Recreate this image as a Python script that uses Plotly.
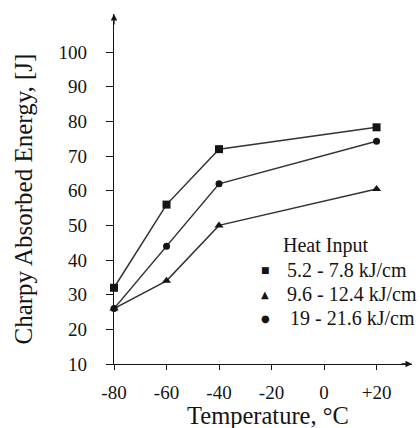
import plotly.graph_objects as go

temperature = [-80, -60, -40, 20]
series_names = ["5.2 - 7.8 kJ/cm", "9.6 - 12.4 kJ/cm", "19 - 21.6 kJ/cm"]
energy_low = [32, 56, 72, 78.3]
energy_mid = [26, 34, 50, 60.5]
energy_high = [26, 44, 62, 74.3]
symbols = ["square", "triangle-up", "circle"]
legend_glyphs = ["\u25A0", "\u25B2", "\u25CF"]
x_ticks = [-80, -60, -40, -20, 0, 20]
x_tick_labels = ["-80", "-60", "-40", "-20", "0", "+20"]
y_ticks = [10, 20, 30, 40, 50, 60, 70, 80, 90, 100]

ink = "#141414"
font = "Liberation Serif, Times New Roman, serif"
fig = go.Figure()
for name, vals, sym in zip(series_names, [energy_low, energy_mid, energy_high], symbols):
    fig.add_trace(go.Scatter(x=temperature, y=vals, mode="lines+markers", name=name,
                             line=dict(color="#333333", width=1.5),
                             marker=dict(symbol=sym, size=8 if sym != "circle" else 7, color=ink),
                             showlegend=False, cliponaxis=False))

# plot area in pixels: x 114..412, y 14..364
def px(xp):
    return (xp - 114) / 298.0

def py(yp):
    return (364 - yp) / 350.0

annotations = [
    dict(text="Heat Input", xref="paper", yref="paper", x=px(281), y=py(246),
         xanchor="left", yanchor="middle", showarrow=False,
         font=dict(size=20, family=font, color=ink)),
    dict(text="Temperature, °C", xref="paper", yref="paper", x=px(267.5), y=py(415),
         xanchor="center", yanchor="middle", showarrow=False,
         font=dict(size=24.5, family=font, color=ink)),
    dict(text="Charpy Absorbed Energy, [J]", xref="paper", yref="paper", x=px(23), y=py(199.5),
         xanchor="center", yanchor="middle", showarrow=False, textangle=-90,
         font=dict(size=25, family=font, color=ink)),
    dict(x=1, y=0, xref="paper", yref="paper", ax=-12, ay=0, showarrow=True,
         arrowhead=2, arrowsize=1, arrowwidth=1.3, arrowcolor=ink, text=""),
    dict(x=0, y=1, xref="paper", yref="paper", ax=0, ay=12, showarrow=True,
         arrowhead=2, arrowsize=1, arrowwidth=1.3, arrowcolor=ink, text=""),
]
glyph_sizes = [9, 10, 10]
for i, (name, glyph) in enumerate(zip(series_names, legend_glyphs)):
    yc = 270 + 24 * i
    annotations.append(dict(text=glyph, xref="paper", yref="paper", x=px(265), y=py(yc),
                            xanchor="center", yanchor="middle", showarrow=False,
                            font=dict(size=glyph_sizes[i], family="DejaVu Sans", color=ink)))
    annotations.append(dict(text=name, xref="paper", yref="paper", x=px(285 if i < 2 else 288), y=py(yc),
                            xanchor="left", yanchor="middle", showarrow=False,
                            font=dict(size=20, family=font, color=ink)))

fig.update_layout(
    width=420, height=428,
    margin=dict(l=114, r=8, t=14, b=64, autoexpand=False),
    paper_bgcolor="white", plot_bgcolor="white",
    font=dict(family=font, color=ink, size=18),
    showlegend=False,
    annotations=annotations,
)
fig.update_xaxes(range=[-80, 33.5], tickvals=x_ticks, ticktext=x_tick_labels,
                 showgrid=False, zeroline=False, showline=True, linecolor=ink, linewidth=1.3,
                 ticks="outside", ticklen=5, tickcolor=ink, ticklabelstandoff=6,
                 tickfont=dict(size=19, family=font, color=ink), automargin=False)
fig.update_yaxes(range=[10, 111], tickvals=y_ticks,
                 showgrid=False, zeroline=False, showline=True, linecolor=ink, linewidth=1.3,
                 ticks="outside", ticklen=7, tickcolor=ink, ticklabelstandoff=15,
                 tickfont=dict(size=19, family=font, color=ink), automargin=False)
fig.write_html("out.html", config={"displayModeBar": False},
               post_script="document.body.style.margin='0';")
